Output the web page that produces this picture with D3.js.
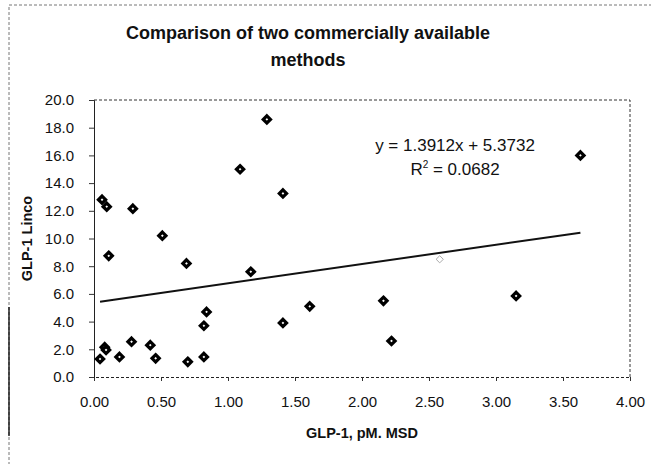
<!DOCTYPE html>
<html>
<head>
<meta charset="utf-8">
<script src="https://cdn.jsdelivr.net/npm/d3@7"></script>
<style>
  html, body { margin: 0; padding: 0; background: #fff; }
  svg { display: block; font-family: "Liberation Sans", Arial, sans-serif; }
</style>
</head>
<body>
<svg id="chart" width="651" height="464"></svg>
<script>
// ---- data ----
const titleLines = ["Comparison of two commercially available", "methods"];
const xAxisTitle = "GLP-1, pM. MSD";
const yAxisTitle = "GLP-1 Linco";
const xTicks = [0, 0.5, 1.0, 1.5, 2.0, 2.5, 3.0, 3.5, 4.0];
const yTicks = [0, 2, 4, 6, 8, 10, 12, 14, 16, 18, 20];
const msdValues = [0.045, 0.08, 0.09, 0.19, 0.28, 0.42, 0.46, 0.70, 0.82, 0.82, 0.84,
                   0.06, 0.095, 0.29, 0.11, 0.51, 0.69, 1.09, 1.17, 1.29, 1.41, 1.41,
                   1.61, 2.16, 2.22, 2.58, 3.15, 3.63];
const lincoValues = [1.3, 2.15, 1.95, 1.45, 2.55, 2.3, 1.35, 1.1, 1.45, 3.7, 4.7,
                     12.8, 12.3, 12.15, 8.75, 10.2, 8.2, 15.0, 7.6, 18.6, 13.25, 3.9,
                     5.1, 5.5, 2.6, 8.5, 5.85, 16.0];
const trendSlope = 1.3912;
const trendIntercept = 5.3732;
const equationText = "y = 1.3912x + 5.3732";
const r2Value = "0.0682";

// ---- layout ----
const svg = d3.select("#chart");
const plot = { left: 94, right: 630, top: 100, bottom: 377 };
const x = d3.scaleLinear().domain([0, 4]).range([plot.left, plot.right]);
const y = d3.scaleLinear().domain([0, 20]).range([plot.bottom, plot.top]);
const FONT = "Liberation Sans, Arial, sans-serif";

svg.append("rect").attr("width", 651).attr("height", 464).attr("fill", "#fff");

// outer chart border
svg.append("path")
  .attr("d", `M9,470 L9,5 L660,5`)
  .attr("fill", "none").attr("stroke", "#777").attr("stroke-width", 1)
  .attr("stroke-dasharray", "3,2");
svg.append("line")
  .attr("x1", 9).attr("x2", 9).attr("y1", 307).attr("y2", 436)
  .attr("stroke", "#000").attr("stroke-width", 1.3);

// title
svg.append("text")
  .attr("x", 308).attr("y", 39)
  .attr("text-anchor", "middle")
  .attr("font-size", 18).attr("font-weight", "bold").attr("fill", "#111")
  .selectAll("tspan").data(titleLines).join("tspan")
  .attr("x", 308).attr("dy", (d, i) => i === 0 ? 0 : 27)
  .text(d => d);

// plot frame: top & right dashed
svg.append("path")
  .attr("d", `M${plot.left},${plot.top} L${plot.right},${plot.top} L${plot.right},${plot.bottom}`)
  .attr("fill", "none").attr("stroke", "#333").attr("stroke-width", 1)
  .attr("stroke-dasharray", "3,2");

// x axis
const xAxis = d3.axisBottom(x).tickValues(xTicks).tickFormat(d3.format(".2f"))
  .tickSize(4).tickPadding(15);
const gx = svg.append("g").attr("transform", `translate(0,${plot.bottom})`).call(xAxis);
gx.select(".domain").attr("stroke", "#222").attr("stroke-dasharray", "3,2");
gx.selectAll(".tick line").attr("stroke", "#333");
gx.selectAll(".tick text").attr("font-size", 15).attr("fill", "#111")
  .attr("font-family", FONT);

// y axis
const yAxis = d3.axisLeft(y).tickValues(yTicks).tickFormat(d3.format(".1f"))
  .tickSize(5).tickPadding(15);
const gy = svg.append("g").attr("transform", `translate(${plot.left},0)`).call(yAxis);
gy.select(".domain").attr("stroke", "#222");
gy.selectAll(".tick line").attr("stroke", "#333");
gy.selectAll(".tick text").attr("font-size", 15).attr("fill", "#111")
  .attr("font-family", FONT);

// axis titles
svg.append("text")
  .attr("x", (plot.left + plot.right) / 2).attr("y", 438)
  .attr("text-anchor", "middle")
  .attr("font-size", 14.5).attr("font-weight", "bold").attr("fill", "#111")
  .text(xAxisTitle);
svg.append("text")
  .attr("transform", `translate(32,${(plot.top + plot.bottom) / 2}) rotate(-90)`)
  .attr("text-anchor", "middle")
  .attr("font-size", 14.5).attr("font-weight", "bold").attr("fill", "#111")
  .text(yAxisTitle);

// trend line
const xMin = d3.min(msdValues), xMax = d3.max(msdValues);
svg.append("line")
  .attr("x1", x(xMin)).attr("y1", y(trendSlope * xMin + trendIntercept))
  .attr("x2", x(xMax)).attr("y2", y(trendSlope * xMax + trendIntercept))
  .attr("stroke", "#111").attr("stroke-width", 2);

// points (square diamond markers, dark with small light centre)
const pts = msdValues.map((v, i) => ({ x: v, y: lincoValues[i], i }));
const r = 3.6;
const diamondPath = `M0,${-r}L${r},0L0,${r}L${-r},0Z`;
svg.append("g").selectAll("path").data(pts).join("path")
  .attr("d", diamondPath)
  .attr("transform", d => `translate(${x(d.x)},${y(d.y)})`)
  .attr("fill", "#fff")
  .attr("stroke", d => d.i === 25 ? "#aaa" : "#000")
  .attr("stroke-width", d => d.i === 25 ? 1 : 3.2);

// equation
svg.append("text")
  .attr("x", 455).attr("y", 151)
  .attr("text-anchor", "middle")
  .attr("font-size", 17).attr("fill", "#111")
  .text(equationText);
const r2 = svg.append("text")
  .attr("x", 455).attr("y", 175)
  .attr("text-anchor", "middle")
  .attr("font-size", 17).attr("fill", "#111");
r2.append("tspan").text("R");
r2.append("tspan").attr("font-size", 10).attr("dy", -7).text("2");
r2.append("tspan").attr("dy", 7).text(" = " + r2Value);
</script>
</body>
</html>
